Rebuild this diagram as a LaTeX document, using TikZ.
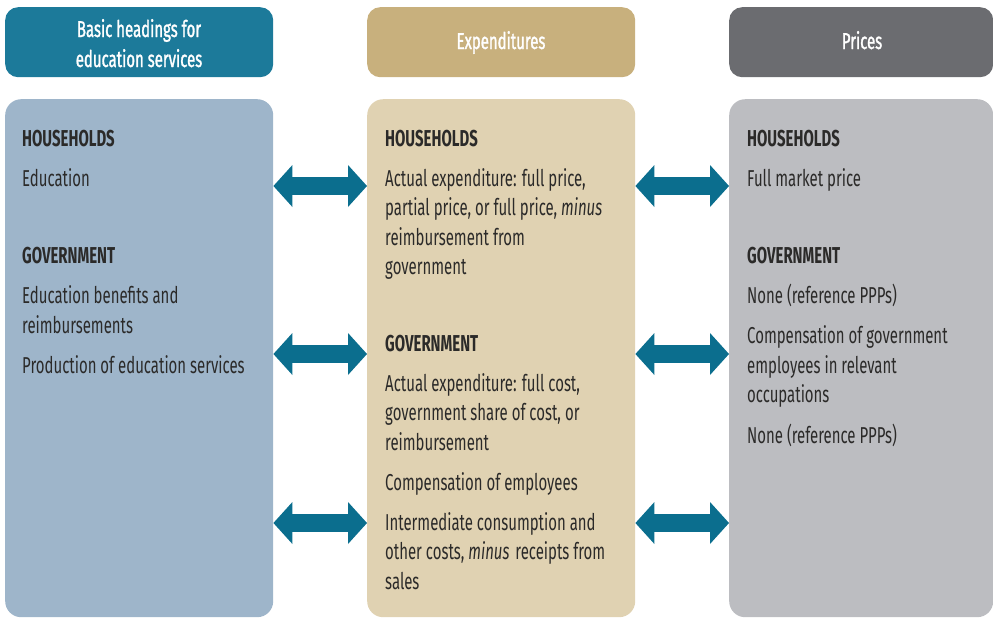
\documentclass[tikz,border=0pt]{standalone}
\usepackage{fontspec}
\setmainfont{Fira Sans}[FakeStretch=0.65]
\newfontfamily\headfont{Fira Sans}[FakeStretch=0.65,FakeBold=1.3]
\usetikzlibrary{arrows.meta}
\definecolor{hdblue}{HTML}{1C7A9A}
\definecolor{pnblue}{HTML}{9EB5CA}
\definecolor{hdtan}{HTML}{C8B07D}
\definecolor{pntan}{HTML}{E0D2B2}
\definecolor{hdgray}{HTML}{6B6C70}
\definecolor{pngray}{HTML}{BCBDC1}
\definecolor{arrowc}{HTML}{0B6E8E}
\definecolor{textc}{HTML}{2B2A29}
\begin{document}
\begin{tikzpicture}[x=1pt,y=-1pt,
  headbox/.style={anchor=north west, minimum height=70pt, rounded corners=13pt, inner sep=0pt, draw=none},
  panelbox/.style={anchor=north west, minimum height=518pt, rounded corners=16pt, inner sep=0pt, draw=none},
  headtxt/.style={anchor=base, inner sep=0pt, text=white, font=\headfont\fontsize{23}{30}\selectfont},
  bodytxt/.style={anchor=base west, inner sep=0pt, text=textc, font=\fontsize{23}{30}\selectfont},
  bodyhead/.style={bodytxt, font=\fontsize{23}{30}\selectfont\bfseries},
  dblarrow/.style={draw=arrowc, line width=17.5pt, {Triangle[length=19pt,width=42pt,line width=0pt]}-{Triangle[length=19pt,width=42pt,line width=0pt]}}
]
\useasboundingbox (0,0) rectangle (993,619);
% headers
\node[headbox, fill=hdblue, minimum width=268pt] (hL) at (5,7) {};
\node[headbox, fill=hdtan, minimum width=268pt] (hM) at (367,7) {};
\node[headbox, fill=hdgray, minimum width=264pt] (hR) at (729,7) {};
\node[headtxt] (hL1) at (139,37) {Basic headings for};
\node[headtxt] (hL2) at (139,67) {education services};
\node[headtxt] (hM1) at (501,49) {Expenditures};
\node[headtxt] (hR1) at (862,49) {Prices};
% panels
\node[panelbox, fill=pnblue, minimum width=268pt] (pL) at (5,99) {};
\node[panelbox, fill=pntan, minimum width=268pt] (pM) at (367,99) {};
\node[panelbox, fill=pngray, minimum width=264pt] (pR) at (729,99) {};
% left column
\node[bodyhead] (l1) at (22,146) {HOUSEHOLDS};
\node[bodytxt] (l2) at (22,186) {Education};
\node[bodyhead] (l3) at (22,263) {GOVERNMENT};
\node[bodytxt] (l4) at (22,303.5) {Education benefits and};
\node[bodytxt] (l5) at (22,333) {reimbursements};
\node[bodytxt] (l6) at (22,373) {Production of education services};
% middle column
\node[bodyhead] (m1) at (385,146) {HOUSEHOLDS};
\node[bodytxt] (m2) at (385,186) {Actual expenditure: full price,};
\node[bodytxt] (m3) at (385,215.5) {partial price, or full price, \textit{minus}};
\node[bodytxt] (m4) at (385,245) {reimbursement from};
\node[bodytxt] (m5) at (385,274) {government};
\node[bodyhead] (m6) at (385,351) {GOVERNMENT};
\node[bodytxt] (m7) at (385,391) {Actual expenditure: full cost,};
\node[bodytxt] (m8) at (385,420.5) {government share of cost, or};
\node[bodytxt] (m9) at (385,450) {reimbursement};
\node[bodytxt] (m10) at (385,490) {Compensation of employees};
\node[bodytxt] (m11) at (385,530) {Intermediate consumption and};
\node[bodytxt] (m12) at (385,559.5) {other costs, \textit{minus}\kern2pt\ receipts from};
\node[bodytxt] (m13) at (385,589) {sales};
% right column
\node[bodyhead] (r1) at (747,146) {HOUSEHOLDS};
\node[bodytxt] (r2) at (747,186) {Full market price};
\node[bodyhead] (r3) at (747,263) {GOVERNMENT};
\node[bodytxt] (r4) at (747,303.5) {None (reference PPPs)};
\node[bodytxt] (r5) at (747,343.5) {Compensation of government};
\node[bodytxt] (r6) at (747,373) {employees in relevant};
\node[bodytxt] (r7) at (747,402.5) {occupations};
\node[bodytxt] (r8) at (747,443) {None (reference PPPs)};
% arrow end points on panel edges
\coordinate (aL1) at (pL.east |- 0,186);
\coordinate (aM1) at (pM.west |- 0,186);
\coordinate (aL2) at (pL.east |- 0,354);
\coordinate (aM2) at (pM.west |- 0,354);
\coordinate (aL3) at (pL.east |- 0,523);
\coordinate (aM3) at (pM.west |- 0,523);
\coordinate (bM1) at (pM.east |- 0,186);
\coordinate (bR1) at (pR.west |- 0,186);
\coordinate (bM2) at (pM.east |- 0,354);
\coordinate (bR2) at (pR.west |- 0,354);
\coordinate (bM3) at (pM.east |- 0,523);
\coordinate (bR3) at (pR.west |- 0,523);
\draw[dblarrow] (aL1) -- (aM1);
\draw[dblarrow] (aL2) -- (aM2);
\draw[dblarrow] (aL3) -- (aM3);
\draw[dblarrow] (bM1) -- (bR1);
\draw[dblarrow] (bM2) -- (bR2);
\draw[dblarrow] (bM3) -- (bR3);
\end{tikzpicture}
\end{document}
